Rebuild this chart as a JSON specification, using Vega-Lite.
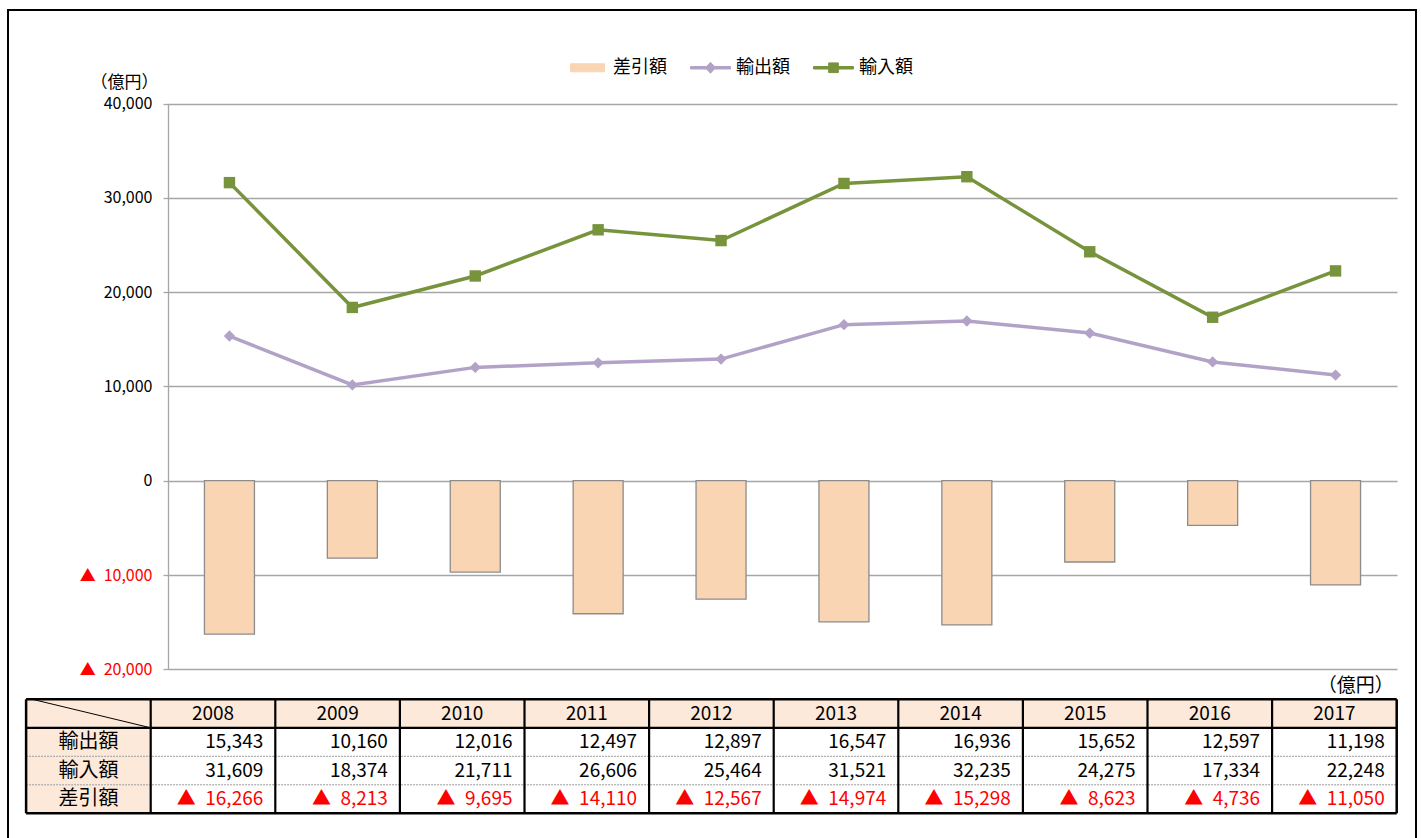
{
  "$schema": "https://vega.github.io/schema/vega-lite/v6.json",
  "width": 1408,
  "height": 830,
  "autosize": {"type": "none"},
  "padding": {"left": 8, "top": 10, "right": 5, "bottom": 0},
  "background": "#ffffff",
  "config": {
    "font": "Noto Sans CJK JP",
    "view": {"stroke": "#000000", "strokeWidth": 2, "fill": "#ffffff"}
  },
  "data": {
    "values": [
      {"year": 2008, "series": "輸出額", "value": 15343},
      {"year": 2009, "series": "輸出額", "value": 10160},
      {"year": 2010, "series": "輸出額", "value": 12016},
      {"year": 2011, "series": "輸出額", "value": 12497},
      {"year": 2012, "series": "輸出額", "value": 12897},
      {"year": 2013, "series": "輸出額", "value": 16547},
      {"year": 2014, "series": "輸出額", "value": 16936},
      {"year": 2015, "series": "輸出額", "value": 15652},
      {"year": 2016, "series": "輸出額", "value": 12597},
      {"year": 2017, "series": "輸出額", "value": 11198},
      {"year": 2008, "series": "輸入額", "value": 31609},
      {"year": 2009, "series": "輸入額", "value": 18374},
      {"year": 2010, "series": "輸入額", "value": 21711},
      {"year": 2011, "series": "輸入額", "value": 26606},
      {"year": 2012, "series": "輸入額", "value": 25464},
      {"year": 2013, "series": "輸入額", "value": 31521},
      {"year": 2014, "series": "輸入額", "value": 32235},
      {"year": 2015, "series": "輸入額", "value": 24275},
      {"year": 2016, "series": "輸入額", "value": 17334},
      {"year": 2017, "series": "輸入額", "value": 22248},
      {"year": 2008, "series": "差引額", "value": -16266},
      {"year": 2009, "series": "差引額", "value": -8213},
      {"year": 2010, "series": "差引額", "value": -9695},
      {"year": 2011, "series": "差引額", "value": -14110},
      {"year": 2012, "series": "差引額", "value": -12567},
      {"year": 2013, "series": "差引額", "value": -14974},
      {"year": 2014, "series": "差引額", "value": -15298},
      {"year": 2015, "series": "差引額", "value": -8623},
      {"year": 2016, "series": "差引額", "value": -4736},
      {"year": 2017, "series": "差引額", "value": -11050}
    ]
  },
  "resolve": {"scale": {"x": "independent", "y": "independent"}},
  "layer": [
    {
      "layer": [
        {
          "transform": [{"filter": "datum.series === '差引額'"}],
          "mark": {"type": "bar", "size": 50, "orient": "vertical", "stroke": "#8c8c8c", "strokeWidth": 1.3},
          "encoding": {
            "x": {"field": "year", "type": "quantitative", "scale": {"domain": [2007.5, 2017.5], "range": [160, 1389], "nice": false, "zero": false, "padding": 0}, "axis": null},
            "y": {
              "field": "value", "type": "quantitative",
              "scale": {"domain": [-20000, 40000], "range": [659.3, 93.5], "nice": false, "zero": false, "padding": 0},
              "axis": {
                "values": [-20000, -10000, 0, 10000, 20000, 30000, 40000],
                "offset": -160,
                "domain": true, "domainColor": "#a6a6a6", "domainWidth": 1.3,
                "grid": true, "gridColor": "#a6a6a6", "gridWidth": 1.3,
                "ticks": true, "tickSize": 5, "tickColor": "#a6a6a6", "tickWidth": 1.3,
                "labelPadding": 11, "labelFontSize": 16, "labelFont": "Noto Sans CJK JP",
                "labelColor": {"condition": {"test": "datum.value < 0", "value": "#ff0000"}, "value": "#000000"},
                "labelExpr": "datum.value < 0 ? '▲\u2002' + format(-datum.value, ',') : format(datum.value, ',')",
                "labelOverlap": false, "labelFlush": false, "labelBound": false,
                "title": "（億円）", "titleAngle": 0, "titleAlign": "center", "titleBaseline": "middle",
                "titleX": -44, "titleY": 72, "titleFontSize": 17, "titleFontWeight": "normal",
                "titleColor": "#000000", "titleFont": "Noto Sans CJK JP"
              }
            },
            "y2": {"datum": 0},
            "color": {
              "field": "series", "type": "nominal",
              "scale": {"domain": ["差引額", "輸出額", "輸入額"], "range": ["#fad5b4", "#b3a2c7", "#77933c"]},
              "legend": {
                "orient": "none", "legendX": 558, "legendY": 36, "direction": "horizontal",
                "title": null, "padding": 0, "symbolSize": 1764, "labelOffset": 4, "columnPadding": 21,
                "symbolStrokeWidth": 1,
                "labelFontSize": 18, "labelFont": "Noto Sans CJK JP", "labelColor": "#000000"
              }
            }
          }
        },
        {
          "transform": [{"filter": "datum.series === '輸出額'"}],
          "mark": {"type": "line", "strokeWidth": 3.5, "point": {"shape": "diamond", "size": 130, "filled": true}},
          "encoding": {
            "x": {"field": "year", "type": "quantitative", "scale": {"domain": [2007.5, 2017.5], "range": [160, 1389], "nice": false, "zero": false, "padding": 0}, "axis": null},
            "y": {"field": "value", "type": "quantitative", "scale": {"domain": [-20000, 40000], "range": [659.3, 93.5], "nice": false, "zero": false, "padding": 0}},
            "color": {"field": "series", "type": "nominal"}
          }
        },
        {
          "transform": [{"filter": "datum.series === '輸入額'"}],
          "mark": {"type": "line", "strokeWidth": 3.5, "point": {"shape": "square", "size": 130, "filled": true}},
          "encoding": {
            "x": {"field": "year", "type": "quantitative", "scale": {"domain": [2007.5, 2017.5], "range": [160, 1389], "nice": false, "zero": false, "padding": 0}, "axis": null},
            "y": {"field": "value", "type": "quantitative", "scale": {"domain": [-20000, 40000], "range": [659.3, 93.5], "nice": false, "zero": false, "padding": 0}},
            "color": {"field": "series", "type": "nominal"}
          }
        },
        {
          "transform": [{"filter": "false"}],
          "mark": {"type": "point", "filled": true},
          "encoding": {
            "x": {"field": "year", "type": "quantitative", "scale": {"domain": [2007.5, 2017.5], "range": [160, 1389], "nice": false, "zero": false, "padding": 0}, "axis": null},
            "y": {"field": "value", "type": "quantitative", "scale": {"domain": [-20000, 40000], "range": [659.3, 93.5], "nice": false, "zero": false, "padding": 0}},
            "color": {"field": "series", "type": "nominal"},
            "shape": {
              "field": "series", "type": "nominal",
              "scale": {
                "domain": ["差引額", "輸出額", "輸入額"],
                "range": [
                  "M-0.81,-0.19H0.81V0.19H-0.81Z",
                  "M-0.95,-0.06H0.95V0.06H-0.95Z M0,-0.26L0.24,0L0,0.26L-0.24,0Z",
                  "M-0.95,-0.06H0.95V0.06H-0.95Z M-0.23,-0.23H0.23V0.23H-0.23Z"
                ]
              },
              "legend": {
                "orient": "none", "legendX": 558, "legendY": 36, "direction": "horizontal",
                "title": null, "padding": 0, "symbolSize": 1764, "labelOffset": 4, "columnPadding": 21,
                "symbolStrokeWidth": 1,
                "labelFontSize": 18, "labelFont": "Noto Sans CJK JP", "labelColor": "#000000"
              }
            }
          }
        }
      ]
    },
    {
      "layer": [
        {
          "transform": [{"filter": "datum.series === '輸出額'"}],
          "mark": {"type": "rect", "fill": "#fde9d9"},
          "encoding": {
            "x": {"field": "year", "type": "ordinal", "scale": {"type": "band", "domain": [2007, 2008, 2009, 2010, 2011, 2012, 2013, 2014, 2015, 2016, 2017], "range": [18.1, 1388.7], "paddingInner": 0, "paddingOuter": 0, "round": false}, "axis": null},
            "y": {"datum": "年", "type": "nominal", "scale": {"type": "band", "domain": ["年", "輸出額", "輸入額", "差引額"], "range": [689.3, 803.3], "paddingInner": 0, "paddingOuter": 0, "round": false}, "axis": null}
          }
        },
        {
          "transform": [{"filter": "datum.year === 2008"}],
          "mark": {"type": "rect", "fill": "#fde9d9"},
          "encoding": {
            "x": {"datum": 2007, "type": "ordinal"},
            "y": {"field": "series", "type": "nominal"}
          }
        },
        {
          "transform": [{"filter": "datum.year === 2008 && datum.series === '輸出額'"}],
          "mark": {"type": "rect", "fill": "#fde9d9"},
          "encoding": {
            "x": {"datum": 2007, "type": "ordinal"},
            "y": {"datum": "年", "type": "nominal"}
          }
        },
        {
          "transform": [{"filter": "datum.year === 2008"}],
          "mark": {"type": "rule"},
          "encoding": {
            "x": {"datum": 2007, "type": "ordinal", "bandPosition": 0},
            "x2": {"datum": 2017, "bandPosition": 1},
            "y": {"field": "series", "type": "nominal", "bandPosition": 0},
            "color": {"condition": {"test": "datum.series === '輸出額'", "value": "#000000"}, "value": "#9a9a9a"},
            "strokeWidth": {"condition": {"test": "datum.series === '輸出額'", "value": 2.2}, "value": 1},
            "strokeDash": {"condition": {"test": "datum.series === '輸出額'", "value": [1, 0]}, "value": [2, 1]}
          }
        },
        {
          "transform": [{"filter": "datum.series === '輸出額'"}],
          "mark": {"type": "rule", "color": "#000000", "strokeWidth": 2.2},
          "encoding": {
            "x": {"field": "year", "type": "ordinal", "bandPosition": 0},
            "y": {"datum": "年", "type": "nominal", "bandPosition": 0},
            "y2": {"datum": "差引額", "bandPosition": 1}
          }
        },
        {
          "transform": [{"filter": "datum.year === 2008 && datum.series === '輸出額'"}],
          "mark": {"type": "rule", "color": "#000000", "strokeWidth": 2.5},
          "encoding": {
            "x": {"datum": 2007, "type": "ordinal", "bandPosition": 0},
            "y": {"datum": "年", "type": "nominal", "bandPosition": 0},
            "y2": {"datum": "差引額", "bandPosition": 1}
          }
        },
        {
          "transform": [{"filter": "datum.year === 2008 && datum.series === '輸出額'"}],
          "mark": {"type": "rule", "color": "#000000", "strokeWidth": 2.5},
          "encoding": {
            "x": {"datum": 2017, "type": "ordinal", "bandPosition": 1},
            "y": {"datum": "年", "type": "nominal", "bandPosition": 0},
            "y2": {"datum": "差引額", "bandPosition": 1}
          }
        },
        {
          "transform": [{"filter": "datum.year === 2008 && datum.series === '輸出額'"}],
          "mark": {"type": "rule", "color": "#000000", "strokeWidth": 2.5},
          "encoding": {
            "x": {"datum": 2007, "type": "ordinal", "bandPosition": 0},
            "x2": {"datum": 2017, "bandPosition": 1},
            "y": {"datum": "年", "type": "nominal", "bandPosition": 0}
          }
        },
        {
          "transform": [{"filter": "datum.year === 2008 && datum.series === '輸出額'"}],
          "mark": {"type": "rule", "color": "#000000", "strokeWidth": 2.5},
          "encoding": {
            "x": {"datum": 2007, "type": "ordinal", "bandPosition": 0},
            "x2": {"datum": 2017, "bandPosition": 1},
            "y": {"datum": "差引額", "type": "nominal", "bandPosition": 1}
          }
        },
        {
          "transform": [{"filter": "datum.year === 2008 && datum.series === '輸出額'"}],
          "mark": {"type": "rule", "color": "#000000", "strokeWidth": 1},
          "encoding": {
            "x": {"datum": 2007, "type": "ordinal", "bandPosition": 0.05},
            "x2": {"datum": 2007, "bandPosition": 1},
            "y": {"datum": "年", "type": "nominal", "bandPosition": 0},
            "y2": {"datum": "年", "bandPosition": 1}
          }
        },
        {
          "transform": [{"filter": "datum.series === '輸出額'"}],
          "mark": {"type": "text", "fontSize": 19, "color": "#000000", "baseline": "middle"},
          "encoding": {
            "x": {"field": "year", "type": "ordinal"},
            "y": {"datum": "年", "type": "nominal"},
            "text": {"field": "year", "type": "ordinal"}
          }
        },
        {
          "transform": [{"filter": "datum.year === 2008"}],
          "mark": {"type": "text", "fontSize": 20, "color": "#000000", "baseline": "middle"},
          "encoding": {
            "x": {"datum": 2007, "type": "ordinal"},
            "y": {"field": "series", "type": "nominal"},
            "text": {"field": "series", "type": "nominal"}
          }
        },
        {
          "transform": [{"calculate": "datum.value < 0 ? '▲\u2002' + format(-datum.value, ',') : format(datum.value, ',')", "as": "label"}],
          "mark": {"type": "text", "fontSize": 19, "align": "right", "baseline": "middle", "dx": -12},
          "encoding": {
            "x": {"field": "year", "type": "ordinal", "bandPosition": 1},
            "y": {"field": "series", "type": "nominal"},
            "text": {"field": "label", "type": "nominal"},
            "color": {"condition": {"test": "datum.value < 0", "value": "#ff0000"}, "value": "#000000"}
          }
        },
        {
          "transform": [{"filter": "datum.year === 2008 && datum.series === '輸出額'"}],
          "mark": {"type": "text", "text": "（億円）", "fontSize": 19, "align": "right", "baseline": "middle", "dx": -3, "dy": -13, "color": "#000000"},
          "encoding": {
            "x": {"datum": 2017, "type": "ordinal", "bandPosition": 1},
            "y": {"datum": "年", "type": "nominal", "bandPosition": 0}
          }
        }
      ]
    }
  ]
}
